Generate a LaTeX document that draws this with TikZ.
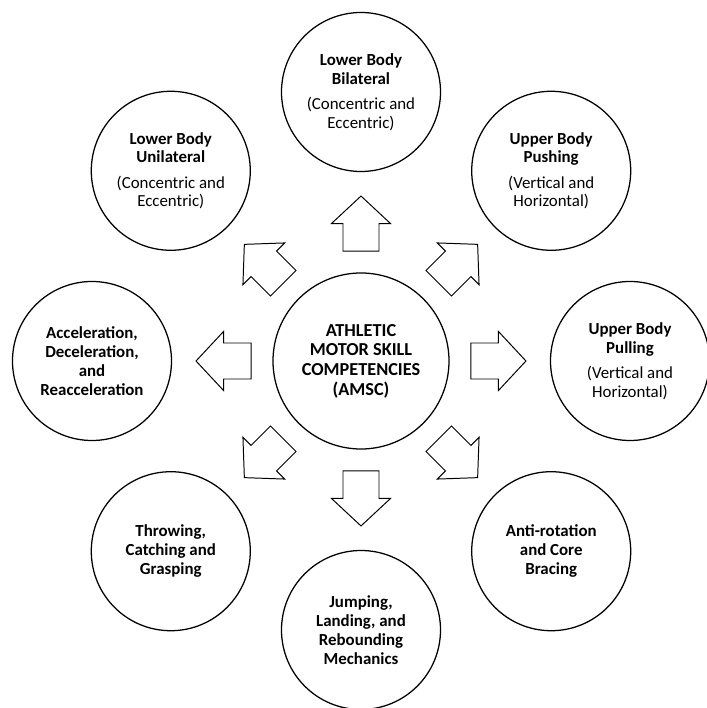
\documentclass[tikz,border=0pt]{standalone}
\usepackage{fontspec}
\setmainfont{Carlito}
\usetikzlibrary{calc}

\tikzset{
  skill/.style={draw, circle, line width=0.9pt, minimum size=3.975cm, inner sep=0pt,
    align=center, font=\fontsize{12}{13.4}\selectfont\bfseries},
  hub/.style={skill, minimum size=4.4cm, font=\fontsize{13}{14}\selectfont\bfseries},
  blockarrow/.style={draw, line width=0.7pt, line join=miter}
}

\begin{document}
\begin{tikzpicture}
  \useasboundingbox (-9.025, -8.675) rectangle (8.65, 9.025);

  \node[hub] (amsc) at (0, 0) {ATHLETIC\\MOTOR SKILL\\COMPETENCIES\\(AMSC)};

  \node[skill] (bilat) at (90:6.725) {Lower Body\\Bilateral\\[4.5pt]\mdseries (Concentric and\\\mdseries Eccentric)};
  \node[skill] (push) at (45:6.725) {Upper Body\\Pushing\\[4.5pt]\mdseries (Vertical and\\\mdseries Horizontal)};
  \node[skill] (pull) at (0:6.725) {Upper Body\\Pulling\\[4.5pt]\mdseries (Vertical and\\\mdseries Horizontal)};
  \node[skill] (anti) at (-45:6.725) {Anti-rotation\\and Core\\Bracing};
  \node[skill] (jump) at (-90:6.725) {Jumping,\\Landing, and\\Rebounding\\Mechanics};
  \node[skill] (throw) at (-135:6.725) {Throwing,\\Catching and\\Grasping};
  \node[skill] (accel) at (180:6.725) {Acceleration,\\Deceleration,\\and\\Reacceleration};
  \node[skill] (unilat) at (135:6.725) {Lower Body\\Unilateral\\[4.5pt]\mdseries (Concentric and\\\mdseries Eccentric)};

  % block arrows from the hub out to each skill
  \foreach \a/\n in {90/bilat, 45/push, 0/pull, -45/anti, -90/jump, -135/throw, 180/accel, 135/unilat}
    \draw[blockarrow, shift={($(amsc)!0.511!(\n)$)}, rotate=\a]
      (-0.6875, -0.45) -- (0, -0.45) -- (0, -0.7375) -- (0.6875, 0)
      -- (0, 0.7375) -- (0, 0.45) -- (-0.6875, 0.45) -- cycle;
\end{tikzpicture}
\end{document}
